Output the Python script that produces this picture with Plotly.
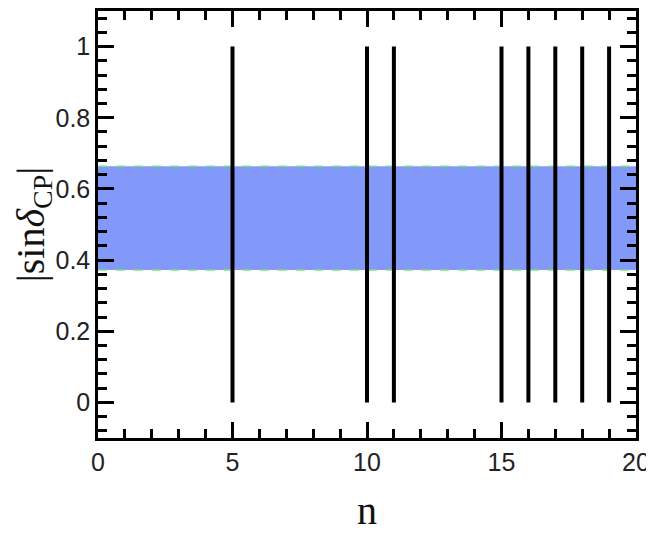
import plotly.graph_objects as go

# data
n_values = [5, 10, 11, 15, 16, 17, 18, 19]
line_low = 0.0
line_high = 1.0
band_low = 0.372
band_high = 0.664
band_x = [0, 20]
x_range = [0, 20]
y_range = [-0.1, 1.1]

fig = go.Figure()

# allowed |sin delta_CP| band
fig.add_trace(go.Scatter(
    x=band_x, y=[band_low] * len(band_x), mode="lines",
    line=dict(color="#7fe07f", width=1.5, dash="dash"), showlegend=False))
fig.add_trace(go.Scatter(
    x=band_x, y=[band_high] * len(band_x), mode="lines", fill="tonexty",
    fillcolor="#8299f9",
    line=dict(color="#7fe07f", width=1.5, dash="dash"), showlegend=False))

# vertical lines at allowed n
xs, ys = [], []
for n in n_values:
    xs += [n, n, None]
    ys += [line_low, line_high, None]
fig.add_trace(go.Scatter(x=xs, y=ys, mode="lines",
                         line=dict(color="black", width=4), showlegend=False))

# invisible trace so the minor-tick overlay axes get drawn
fig.add_trace(go.Scatter(x=x_range, y=y_range, xaxis="x2", yaxis="y2",
                         mode="markers", marker=dict(opacity=0),
                         showlegend=False, hoverinfo="skip"))

tick_font = dict(family="Liberation Sans, Arial", size=25, color="#222")
title_font = dict(family="Liberation Serif, Times New Roman", size=40, color="#111")

fig.update_layout(
    xaxis=dict(range=x_range, dtick=5, tick0=0,
               ticks="inside", ticklen=16, tickwidth=2.5, tickcolor="black",
               showline=True, linecolor="black", linewidth=2.5, mirror="allticks",
               showgrid=False, zeroline=False, tickfont=tick_font,
               title=dict(text="n", font=title_font, standoff=26)),
    yaxis=dict(range=y_range, dtick=0.2, tick0=0,
               ticks="inside", ticklen=16, tickwidth=2.5, tickcolor="black",
               showline=True, linecolor="black", linewidth=2.5, mirror="allticks",
               showgrid=False, zeroline=False, tickfont=tick_font,
               title=dict(text="|sin<i>δ</i><sub>CP</sub>|", font=title_font, standoff=4)),
    # minor ticks
    xaxis2=dict(overlaying="x", range=x_range, dtick=1, tick0=0,
                ticks="inside", ticklen=9, tickwidth=2.5, tickcolor="black",
                mirror="allticks", showline=False, showticklabels=False,
                showgrid=False, zeroline=False),
    yaxis2=dict(overlaying="y", range=y_range, dtick=0.04, tick0=0,
                ticks="inside", ticklen=9, tickwidth=2.5, tickcolor="black",
                mirror="allticks", showline=False, showticklabels=False,
                showgrid=False, zeroline=False),
    width=646, height=525,
    margin=dict(l=90, r=18, t=0, b=95),
    plot_bgcolor="white", paper_bgcolor="white",
)

fig.write_html("out.html")
